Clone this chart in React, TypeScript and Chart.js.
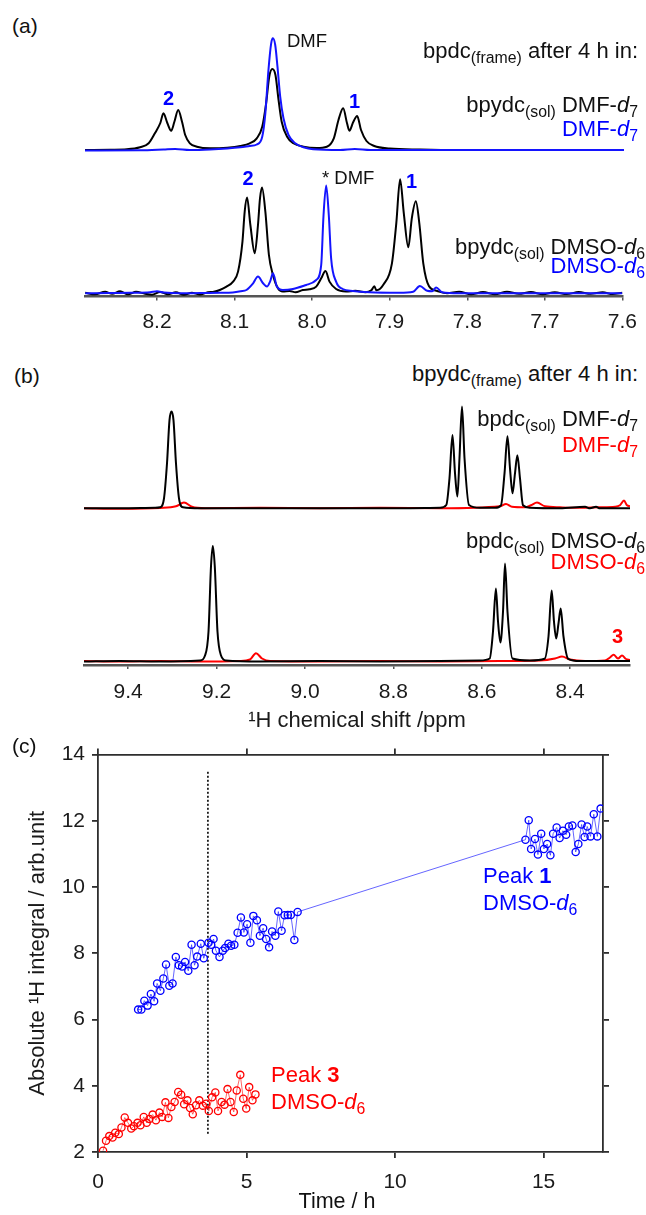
import React, { useEffect, useRef } from "react";
import { Chart, registerables } from "chart.js";
Chart.register(...registerables);

const FONT = '"Liberation Sans", Arial, Helvetica, sans-serif';
const BLUE = "#0000ff";
const RED = "#ff0000";
const TRACE_BLUE = "#1414ff";

// ---------- Panel (a): bpdc frame, 8.29-7.60 ppm ----------
const aTicks = [8.2, 8.1, 8.0, 7.9, 7.8, 7.7, 7.6];

const aTopBlackPpm = [8.293, 8.260, 8.239, 8.222, 8.211, 8.203, 8.196, 8.192, 8.187, 8.182, 8.178, 8.173, 8.168, 8.164, 8.158, 8.149, 8.132, 8.110, 8.093, 8.081, 8.072, 8.065, 8.060, 8.056, 8.052, 8.048, 8.044, 8.040, 8.033, 8.025, 8.012, 7.995, 7.982, 7.973, 7.967, 7.961, 7.956, 7.953, 7.948, 7.943, 7.938, 7.931, 7.921, 7.901, 7.862, 7.811, 7.6];
const aTopBlackInt = [0, 0.3, 0.7, 2.7, 6.7, 16.7, 27, 36.7, 27, 19.3, 28, 40, 28, 15, 6.7, 3.3, 1.7, 2.3, 4, 6.7, 11.7, 23.3, 46.7, 73.3, 81, 75, 50, 28.3, 13.3, 6.7, 3.3, 2, 3.3, 11.7, 30, 41.7, 26.7, 19.3, 28, 34, 20, 9, 4, 1.5, 0.5, 0, 0];

const aTopBluePpm = [8.293, 8.222, 8.192, 8.177, 8.158, 8.132, 8.110, 8.093, 8.081, 8.072, 8.065, 8.061, 8.057, 8.0535, 8.0513, 8.0483, 8.0454, 8.0419, 8.0377, 8.0312, 8.0226, 8.012, 7.9995, 7.965, 7.946, 7.926, 7.6];
const aTopBlueInt = [-0.5, -0.3, 0.5, 1, 0, 0.5, 1.5, 2.7, 4, 5.5, 13.3, 36.7, 80, 106.7, 111.7, 105, 83.3, 53.3, 31.7, 15, 6.7, 2.7, 0.7, 0, 1, 0, 0];

const aBotBlackPpm = [8.2925, 8.2797, 8.2668, 8.2578, 8.2476, 8.2373, 8.2270, 8.2154, 8.2064, 8.1961, 8.1859, 8.1756, 8.1653, 8.1550, 8.1447, 8.1344, 8.1267, 8.1190, 8.1104, 8.1019, 8.0955, 8.0898, 8.0869, 8.0839, 8.0796, 8.0740, 8.0698, 8.0672, 8.0646, 8.0603, 8.0557, 8.0505, 8.0441, 8.0377, 8.0291, 8.0214, 8.0120, 8.0034, 7.9947, 7.9883, 7.9828, 7.9776, 7.9691, 7.9562, 7.9443, 7.9314, 7.9237, 7.9198, 7.9172, 7.9078, 7.8971, 7.8915, 7.8866, 7.8818, 7.8760, 7.8715, 7.8663, 7.8618, 7.8567, 7.8493, 7.8388, 7.8260, 7.8105, 7.7951, 7.7797, 7.7643, 7.7488, 7.7334, 7.7180, 7.7026, 7.6872, 7.6717, 7.6563, 7.6409, 7.6254, 7.6126, 7.6];
const aBotBlackInt = [0.5, -1, 1.5, -0.5, 2, -1, 1.5, -0.5, -1.5, 1.2, -1, 1, -1.5, 0.5, -1.2, 1, 1.5, 3.3, 6.7, 11.7, 21.7, 51.7, 82, 95.7, 68.3, 40, 68.3, 95, 105.7, 81.7, 38.3, 18.3, 5, 1.7, 2.3, 1, 3.3, 4, 6.7, 15, 22.3, 11.7, 4.3, 1.7, 2.5, 1, 3, 7, 3, 9, 30, 70, 114, 80, 46, 75, 92, 70, 30, 7, 2.3, 0, 1.5, -1, 1.2, -1, 1.5, -0.5, 1.2, -1, 1, -0.8, 1.2, -0.5, 1, -0.8, 0.5];

const aBotBluePpm = [8.2925, 8.2604, 8.2347, 8.2090, 8.2000, 8.1910, 8.1704, 8.1447, 8.1190, 8.1023, 8.0920, 8.0847, 8.0761, 8.0698, 8.0633, 8.0582, 8.0541, 8.0505, 8.0454, 8.0377, 8.0248, 8.0076, 7.9947, 7.9883, 7.9853, 7.9819, 7.9785, 7.9755, 7.9691, 7.9606, 7.9477, 7.9262, 7.8877, 7.8697, 7.8611, 7.8517, 7.8452, 7.8401, 7.8324, 7.8105, 7.6];
const aBotBlueInt = [0, 0.3, 0.5, 1, 2, 0.8, 0, 0.3, 0.5, 0.8, 2, 3.3, 10, 16.7, 10, 6.7, 12, 20, 6.7, 3.3, 4.3, 8.3, 13.3, 28.3, 78, 107.7, 78, 35, 11.7, 4.3, 2.3, 1, 0.5, 1.5, 7.3, 2.5, 2, 5.7, 1, 0, 0];

// ---------- Panel (b): bpydc frame, 9.50-8.27 ppm ----------
const bTicks = [9.4, 9.2, 9.0, 8.8, 8.6, 8.4];

const bTopBlackPpm = [9.5, 9.4186, 9.3394, 9.3281, 9.3190, 9.3122, 9.3066, 9.3020, 9.2975, 9.2919, 9.2851, 9.2760, 9.2376, 9.0113, 8.7851, 8.6946, 8.6803, 8.6731, 8.6663, 8.6606, 8.6552, 8.6505, 8.6448, 8.6391, 8.6290, 8.6041, 8.5701, 8.5566, 8.5486, 8.5419, 8.5362, 8.5305, 8.5249, 8.5195, 8.5136, 8.5068, 8.4910, 8.4231, 8.3665, 8.3552, 8.3416, 8.3326, 8.2647];
const bTopBlackInt = [0, 0, 0.5, 1, 10, 45, 88, 96.7, 88, 45, 10, 1, 0, 0, 0, 0.5, 3.3, 30, 73.3, 35, 11.7, 50, 101.7, 50, 3.3, 0.5, 0.5, 3, 35, 72, 40, 15, 35, 53, 30, 3, 0.5, 0, 1.5, 0, 1.5, 0, 0];

const bTopRedPpm = [9.5, 9.4186, 9.3281, 9.2919, 9.2738, 9.2557, 9.2262, 9.1018, 8.9661, 8.8303, 8.6946, 8.5588, 8.5452, 8.5317, 8.5023, 8.4887, 8.4751, 8.4570, 8.4231, 8.3778, 8.3326, 8.2986, 8.2873, 8.2783, 8.2715, 8.2647];
const bTopRedInt = [0, -0.5, 0.3, 2, 5.7, 1.5, 0, 0.5, 0, 0.5, 0, 2, 4.3, 1.5, 1, 3, 5.7, 2, 1, 0.5, 1, 1.5, 3, 7.7, 3, 2];

const bBotBlackPpm = [9.5, 9.4186, 9.3281, 9.2376, 9.2262, 9.2183, 9.2127, 9.2086, 9.2041, 9.1980, 9.1900, 9.1787, 9.1018, 8.9661, 8.8303, 8.6946, 8.6041, 8.5821, 8.5747, 8.5681, 8.5633, 8.5579, 8.5520, 8.5475, 8.5419, 8.5308, 8.4910, 8.4579, 8.4491, 8.4419, 8.4367, 8.4317, 8.4265, 8.4215, 8.4152, 8.4045, 8.3778, 8.3326, 8.2647];
const bBotBlackInt = [0, 0.5, 0, 1, 6, 30, 95, 115.6, 95, 30, 6, 1, 0, 0.5, 0, 0.5, 1, 3, 30, 73, 40, 19, 50, 98, 50, 3, 1, 2.7, 25, 71, 40, 23, 38, 53, 25, 2.7, 0.5, 0.5, 0.5];

const bBotRedPpm = [9.5, 9.4186, 9.3281, 9.2376, 9.1471, 9.1244, 9.1109, 9.0973, 9.0792, 8.9661, 8.8303, 8.6946, 8.5588, 8.4683, 8.4344, 8.4186, 8.4005, 8.3665, 8.3213, 8.3100, 8.3018, 8.2919, 8.2828, 8.2738, 8.2647];
const bBotRedInt = [0.5, 0, 0.5, 0, 0.5, 2, 8.3, 3, 0.5, 0, 0.5, 0, 0.5, 1, 3, 5, 2, 0.5, 1, 4, 6.7, 3, 6, 2.5, 1.5];

// ---------- Panel (c): integrals vs time ----------
const cXTicks = [0, 5, 10, 15];
const cYTicks = [2, 4, 6, 8, 10, 12, 14];

const peak1Time = [1.35, 1.46, 1.56, 1.67, 1.78, 1.89, 1.99, 2.10, 2.20, 2.29, 2.40, 2.51, 2.62, 2.72, 2.83, 2.93, 3.04, 3.15, 3.25, 3.34, 3.46, 3.56, 3.72, 3.81, 3.89, 3.97, 4.09, 4.20, 4.28, 4.39, 4.48, 4.59, 4.70, 4.81, 4.91, 5.02, 5.13, 5.23, 5.35, 5.45, 5.56, 5.66, 5.76, 5.86, 5.97, 6.07, 6.18, 6.28, 6.39, 6.49, 6.61, 6.72, 14.39, 14.50, 14.58, 14.71, 14.81, 14.92, 15.01, 15.12, 15.23, 15.32, 15.44, 15.54, 15.65, 15.76, 15.85, 15.97, 16.08, 16.17, 16.28, 16.38, 16.47, 16.58, 16.69, 16.81, 16.92];
const peak1Integral = [6.30, 6.30, 6.57, 6.42, 6.77, 6.55, 7.09, 6.87, 7.24, 7.66, 7.02, 7.09, 7.89, 7.64, 7.60, 7.74, 7.47, 8.26, 7.64, 7.90, 8.29, 7.85, 8.32, 8.26, 8.43, 8.08, 7.89, 8.08, 8.16, 8.29, 8.23, 8.26, 8.62, 9.08, 8.63, 8.88, 8.32, 9.13, 9.00, 8.53, 8.76, 8.43, 8.18, 8.66, 8.53, 9.26, 8.68, 9.15, 9.16, 9.16, 8.40, 9.25, 11.43, 12.02, 11.15, 11.45, 10.98, 11.61, 11.15, 11.30, 10.96, 11.61, 11.80, 11.48, 11.70, 11.58, 11.83, 11.86, 11.06, 11.30, 11.89, 11.51, 11.83, 11.53, 12.20, 11.53, 12.37];

const peak3Time = [0.17, 0.27, 0.38, 0.49, 0.58, 0.70, 0.79, 0.90, 1.01, 1.12, 1.21, 1.33, 1.43, 1.54, 1.64, 1.73, 1.84, 1.95, 2.07, 2.16, 2.27, 2.37, 2.47, 2.58, 2.70, 2.80, 2.90, 3.01, 3.10, 3.19, 3.30, 3.41, 3.53, 3.64, 3.73, 3.84, 3.95, 4.04, 4.16, 4.26, 4.36, 4.46, 4.57, 4.67, 4.79, 4.89, 4.99, 5.09, 5.20, 5.30];
const peak3Integral = [2.04, 2.34, 2.48, 2.44, 2.58, 2.54, 2.74, 3.04, 2.88, 2.71, 2.78, 2.88, 2.81, 3.06, 2.88, 3.00, 3.13, 2.96, 3.19, 3.06, 3.50, 3.03, 3.36, 3.51, 3.81, 3.73, 3.44, 3.56, 3.33, 3.14, 3.41, 3.56, 3.40, 3.46, 3.24, 3.65, 3.80, 3.24, 3.51, 3.43, 3.90, 3.51, 3.21, 3.86, 4.33, 3.61, 3.31, 3.96, 3.56, 3.74];

const markerTime = [3.7, 3.7];
const markerIntegral = [2.55, 13.5];

function pts(xs: number[], ys: number[]) {
  return xs.map((x, i) => ({ x, y: ys[i] }));
}

type Trace = { xs: number[]; ys: number[]; color: string };
type AxisCfg = { ticks: number[]; height: number; padding: number; title?: string; titlePad?: number };
type SpecProps = {
  left: number; top: number; width: number; height: number;
  padL: number; padR: number;
  xMin: number; xMax: number; yMin: number; yMax: number;
  traces: Trace[]; axis?: AxisCfg;
};

function SpecChart(p: SpecProps) {
  const ref = useRef<HTMLCanvasElement | null>(null);
  useEffect(() => {
    if (!ref.current) return;
    const ax = p.axis;
    const xScale: any = ax
      ? {
          type: "linear",
          reverse: true,
          min: p.xMin,
          max: p.xMax,
          afterBuildTicks: (s: any) => {
            s.ticks = ax.ticks.map((v) => ({ value: v }));
          },
          afterFit: (s: any) => {
            s.height = ax.height;
          },
          ticks: {
            autoSkip: false,
            maxRotation: 0,
            padding: ax.padding,
            color: "#1a1a1a",
            font: { family: FONT, size: 21 },
            callback: (v: any) => Number(v).toFixed(1),
          },
          border: { display: true, color: "#555", width: 2.5 },
          grid: { display: true, drawOnChartArea: false, drawTicks: true, tickLength: 4, color: "#555", lineWidth: 1.5 },
          title: ax.title
            ? { display: true, text: ax.title, color: "#1a1a1a", font: { family: FONT, size: 22 }, padding: { top: 0, bottom: ax.titlePad ?? 2 } }
            : { display: false },
        }
      : { type: "linear", reverse: true, min: p.xMin, max: p.xMax, display: false };
    const chart = new Chart(ref.current, {
      type: "line",
      data: {
        datasets: p.traces.map((t) => ({
          data: pts(t.xs, t.ys),
          borderColor: t.color,
          borderWidth: 2,
          pointRadius: 0,
          cubicInterpolationMode: "monotone",
          fill: false,
        })),
      },
      options: {
        animation: false,
        responsive: false,
        maintainAspectRatio: false,
        events: [],
        layout: { padding: { left: p.padL, right: p.padR, top: 0, bottom: 0 } },
        plugins: { legend: { display: false }, tooltip: { enabled: false } },
        scales: {
          x: xScale,
          y: { type: "linear", min: p.yMin, max: p.yMax, display: false },
        },
      } as any,
    });
    return () => chart.destroy();
  }, []);
  return (
    <canvas
      ref={ref}
      width={p.width}
      height={p.height}
      style={{ position: "absolute", left: p.left, top: p.top, width: p.width, height: p.height }}
    />
  );
}

function KineticsChart() {
  const ref = useRef<HTMLCanvasElement | null>(null);
  useEffect(() => {
    if (!ref.current) return;
    const axisCol = "#2e2e2e";
    const frame = {
      border: { display: true, color: axisCol, width: 1.8 },
      grid: { display: true, drawOnChartArea: false, drawTicks: true, tickLength: 6, color: axisCol, lineWidth: 1.8 },
    };
    const tickFont = { family: FONT, size: 21 };
    const xTicks = (s: any) => {
      s.ticks = cXTicks.map((v) => ({ value: v }));
    };
    const yTicks = (s: any) => {
      s.ticks = cYTicks.map((v) => ({ value: v }));
    };
    const chart = new Chart(ref.current, {
      type: "line",
      data: {
        datasets: [
          {
            label: "Peak 1 DMSO-d6",
            data: pts(peak1Time, peak1Integral),
            borderColor: "rgba(50,50,255,0.75)",
            borderWidth: 1,
            pointRadius: 3.6,
            pointBorderWidth: 1.3,
            pointBorderColor: BLUE,
            pointBackgroundColor: "rgba(0,0,0,0)",
            xAxisID: "x",
            yAxisID: "y",
          },
          {
            label: "Peak 3 DMSO-d6",
            data: pts(peak3Time, peak3Integral),
            borderColor: "rgba(255,50,50,0.75)",
            borderWidth: 1,
            pointRadius: 3.6,
            pointBorderWidth: 1.3,
            pointBorderColor: RED,
            pointBackgroundColor: "rgba(0,0,0,0)",
            xAxisID: "x",
            yAxisID: "y",
          },
          {
            label: "4 h",
            data: pts(markerTime, markerIntegral),
            borderColor: "#000",
            borderWidth: 1.6,
            borderDash: [2, 2],
            pointRadius: 0,
            xAxisID: "x",
            yAxisID: "y",
          },
        ],
      },
      options: {
        animation: false,
        responsive: false,
        maintainAspectRatio: false,
        events: [],
        layout: { padding: 0 },
        plugins: { legend: { display: false }, tooltip: { enabled: false } },
        scales: {
          x: {
            type: "linear",
            position: "bottom",
            min: 0,
            max: 17,
            afterBuildTicks: xTicks,
            afterFit: (s: any) => {
              s.height = 63;
            },
            ticks: { autoSkip: false, maxRotation: 0, padding: 12, color: "#1a1a1a", font: tickFont, callback: (v: any) => String(v) },
            ...frame,
          },
          x2: {
            type: "linear",
            axis: "x",
            position: "top",
            min: 0,
            max: 17,
            afterBuildTicks: xTicks,
            afterFit: (s: any) => {
              s.height = 18;
            },
            ticks: { display: false },
            ...frame,
          },
          y: {
            type: "linear",
            position: "left",
            min: 2,
            max: 14,
            afterBuildTicks: yTicks,
            afterFit: (s: any) => {
              s.width = 98;
            },
            ticks: { autoSkip: false, padding: 7, color: "#1a1a1a", font: tickFont, callback: (v: any) => String(v) },
            title: {
              display: true,
              text: "Absolute \u00b9H integral / arb.unit",
              color: "#1a1a1a",
              font: { family: FONT, size: 22 },
              padding: { top: 25, bottom: 0 },
            },
            ...frame,
          },
          y2: {
            type: "linear",
            axis: "y",
            position: "right",
            min: 2,
            max: 14,
            afterBuildTicks: yTicks,
            afterFit: (s: any) => {
              s.width = 43;
            },
            ticks: { display: false },
            ...frame,
          },
        },
      } as any,
    });
    return () => chart.destroy();
  }, []);
  return (
    <canvas
      ref={ref}
      width={646}
      height={480}
      style={{ position: "absolute", left: 0, top: 735, width: 646, height: 480 }}
    />
  );
}

const subStyle: React.CSSProperties = { fontSize: "0.72em", verticalAlign: "-0.3em", lineHeight: 0 };

type LabelProps = {
  left?: number; right?: number; cy: number; color?: string; bold?: boolean; center?: boolean; size?: number;
  children: React.ReactNode;
};
function Label({ left, right, cy, color = "#111", bold, center, size = 22, children }: LabelProps) {
  const lh = Math.round(size * 1.2);
  const style: React.CSSProperties = {
    position: "absolute",
    top: cy - lh / 2,
    lineHeight: lh + "px",
    fontFamily: FONT,
    fontSize: size,
    color,
    fontWeight: bold ? "bold" : "normal",
    whiteSpace: "nowrap",
  };
  if (left !== undefined) style.left = left;
  if (right !== undefined) style.right = right;
  if (center) style.transform = "translateX(-50%)";
  return <div style={style}>{children}</div>;
}

const Sub = ({ children }: { children: React.ReactNode }) => <sub style={subStyle}>{children}</sub>;

export default function App() {
  return (
    <div style={{ position: "absolute", left: 0, top: 0, width: 646, height: 1215, background: "#fff", overflow: "hidden" }}>
      {/* Panel (a) */}
      <SpecChart
        left={85} top={30} width={539} height={125} padL={0} padR={0}
        xMin={7.6} xMax={8.2928} yMin={-5} yMax={120}
        traces={[
          { xs: aTopBluePpm, ys: aTopBlueInt, color: TRACE_BLUE },
          { xs: aTopBlackPpm, ys: aTopBlackInt, color: "#000" },
        ]}
      />
      <SpecChart
        left={0} top={160} width={646} height={180} padL={85} padR={22}
        xMin={7.6} xMax={8.2928} yMin={-3.2} yMax={133.3}
        traces={[
          { xs: aBotBluePpm, ys: aBotBlueInt, color: TRACE_BLUE },
          { xs: aBotBlackPpm, ys: aBotBlackInt, color: "#000" },
        ]}
        axis={{ ticks: aTicks, height: 43.5, padding: 9 }}
      />
      {/* Panel (b) */}
      <SpecChart
        left={84} top={395} width={546} height={120} padL={0} padR={0}
        xMin={8.2647} xMax={9.5} yMin={-6.7} yMax={113.3}
        traces={[
          { xs: bTopBlackPpm, ys: bTopBlackInt, color: "#000" },
          { xs: bTopRedPpm, ys: bTopRedInt, color: RED },
        ]}
      />
      <SpecChart
        left={0} top={535} width={646} height={200} padL={84} padR={16}
        xMin={8.2647} xMax={9.5} yMin={-3.5} yMax={126.5}
        traces={[
          { xs: bBotBlackPpm, ys: bBotBlackInt, color: "#000" },
          { xs: bBotRedPpm, ys: bBotRedInt, color: RED },
        ]}
        axis={{ ticks: bTicks, height: 70, padding: 11, title: "\u00b9H chemical shift /ppm", titlePad: 1 }}
      />
      {/* Panel (c) */}
      <KineticsChart />

      {/* Annotations (a) */}
      <Label left={12} cy={25} size={21}>(a)</Label>
      <Label right={8} cy={51}>bpdc<Sub>(frame)</Sub> after 4 h in:</Label>
      <Label right={8} cy={105}>bpydc<Sub>(sol)</Sub> DMF-<i>d</i><Sub>7</Sub></Label>
      <Label right={8} cy={129} color={BLUE}>DMF-<i>d</i><Sub>7</Sub></Label>
      <Label left={163} cy={98} color={BLUE} bold size={20}>2</Label>
      <Label left={287} cy={41} size={18.5}>DMF</Label>
      <Label left={349} cy={101} color={BLUE} bold size={20}>1</Label>
      <Label left={242.5} cy={178} color={BLUE} bold size={20}>2</Label>
      <Label left={322} cy={178} size={18.5}>* DMF</Label>
      <Label left={406} cy={181} color={BLUE} bold size={20}>1</Label>
      <Label right={1} cy={247}>bpydc<Sub>(sol)</Sub> DMSO-<i>d</i><Sub>6</Sub></Label>
      <Label right={1} cy={266} color={BLUE}>DMSO-<i>d</i><Sub>6</Sub></Label>

      {/* Annotations (b) */}
      <Label left={14} cy={375} size={21}>(b)</Label>
      <Label right={8} cy={374}>bpydc<Sub>(frame)</Sub> after 4 h in:</Label>
      <Label right={8} cy={419}>bpdc<Sub>(sol)</Sub> DMF-<i>d</i><Sub>7</Sub></Label>
      <Label right={8} cy={445} color={RED}>DMF-<i>d</i><Sub>7</Sub></Label>
      <Label right={1} cy={541}>bpdc<Sub>(sol)</Sub> DMSO-<i>d</i><Sub>6</Sub></Label>
      <Label right={1} cy={562} color={RED}>DMSO-<i>d</i><Sub>6</Sub></Label>
      <Label left={612} cy={636} color={RED} bold size={20}>3</Label>

      {/* Annotations (c) */}
      <Label left={12} cy={745} size={21}>(c)</Label>
      <Label left={483} cy={876} color={BLUE}>Peak <b>1</b></Label>
      <Label left={483} cy={903} color={BLUE}>DMSO-<i>d</i><Sub>6</Sub></Label>
      <Label left={271} cy={1075} color={RED}>Peak <b>3</b></Label>
      <Label left={271} cy={1102} color={RED}>DMSO-<i>d</i><Sub>6</Sub></Label>
      <Label left={337} cy={1201} center size={21.5}>Time / h</Label>
    </div>
  );
}
